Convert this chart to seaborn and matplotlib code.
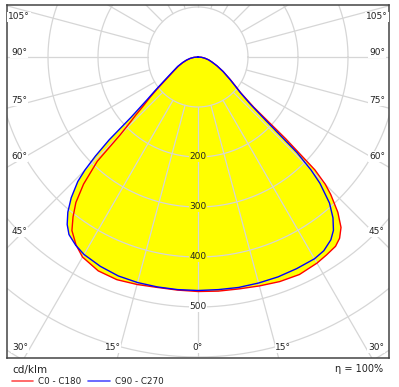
import numpy as np
import pandas as pd
import seaborn as sns
import matplotlib.pyplot as plt
from matplotlib.lines import Line2D

# photometric data, cd/klm, gamma measured from nadir
gamma = [0, 5, 10, 15, 20, 25, 30, 33, 36, 38, 40, 42, 44, 45, 46, 47, 48, 50, 52, 55, 60, 65, 70, 75, 80, 85, 90]
c0 = [469, 470, 471, 474, 478, 480, 476, 472, 468, 460, 445, 418, 382, 360, 325, 240, 150, 112, 96, 79, 58, 42, 30, 22, 14, 7, 0]
c180 = [469, 468, 468, 471, 474, 472, 462, 448, 429, 406, 380, 342, 290, 220, 190, 170, 150, 125, 103, 78, 56, 43, 32, 23, 15, 8, 0]
c90 = [467, 467, 468, 468, 468, 467, 466, 462, 452, 440, 420, 393, 351, 320, 275, 180, 140, 110, 95, 78, 58, 42, 30, 22, 14, 7, 0]
c270 = [467, 467, 467, 467, 466, 462, 456, 449, 439, 425, 405, 379, 346, 320, 285, 243, 180, 133, 108, 82, 58, 45, 33, 24, 16, 8, 0]

ring_values = [100, 200, 300, 400, 500, 600, 700]
ring_labels = [200, 300, 400, 500]
angle_labels = [0, 15, 30, 45, 60, 75, 90, 105]
efficiency = 100


def to_xy(g, right, left):
    # left half goes 90 -> 0, right half 0 -> 90
    g = np.radians(np.array(g, dtype=float))
    right = np.array(right, dtype=float)
    left = np.array(left, dtype=float)
    x = np.concatenate([-left[::-1] * np.sin(g[::-1]), right * np.sin(g)])
    y = np.concatenate([-left[::-1] * np.cos(g[::-1]), -right * np.cos(g)])
    return pd.DataFrame({"x": x, "y": y})


red = to_xy(gamma, c0, c180)
blue = to_xy(gamma, c90, c270)

sns.set_style("white")
W, H = 399, 387
fig = plt.figure(figsize=(W / 100, H / 100), dpi=100)
# frame box in pixels: x 7..389, y 5..358, diagram centre at (198, 57), 2 cd per px
ax = fig.add_axes([7 / W, (H - 358) / H, 382 / W, 353 / H])
ax.set_xlim(-382, 382)
ax.set_ylim(-602, 104)
ax.set_aspect("equal")
ax.set_xticks([])
ax.set_yticks([])
for s in ax.spines.values():
    s.set_color("#444444")
    s.set_linewidth(1.1)

# yellow area
ax.fill(red["x"], red["y"], color="#ffff00", lw=0, zorder=1)
ax.fill(blue["x"], blue["y"], color="#ffff00", lw=0, zorder=1)

# grid
grid_col = "#d6d6d6"
t = np.linspace(0, 2 * np.pi, 400)
for r in ring_values:
    ax.plot(r * np.cos(t), r * np.sin(t), color=grid_col, lw=0.9, zorder=2)
for a in range(0, 360, 15):
    ar = np.radians(a)
    ax.plot([100 * np.sin(ar), 900 * np.sin(ar)], [-100 * np.cos(ar), -900 * np.cos(ar)],
            color=grid_col, lw=0.9, zorder=2)

# curves
sns.lineplot(data=red, x="x", y="y", sort=False, estimator=None, color="#ff0000", lw=1.0, ax=ax, zorder=3)
sns.lineplot(data=blue, x="x", y="y", sort=False, estimator=None, color="#0000ff", lw=1.0, ax=ax, zorder=3)
ax.set_xlabel("")
ax.set_ylabel("")

# intensity labels on the 0 deg axis
for v in ring_labels:
    bg = "#ffff00" if v < c0[0] else "white"
    ax.text(0, -v, str(v), ha="center", va="center", fontsize=6.5, color="#222222", zorder=4,
            bbox=dict(facecolor=bg, edgecolor="none", pad=0.5))

# angle labels around the frame
for a in angle_labels:
    ar = np.radians(a)
    if a >= 45:
        x = 358
        y = -x / np.tan(ar) if a != 90 else 0
        y = min(y + 8, 80)
        for sx in (-1, 1):
            ax.text(sx * x, y, f"{a}°", ha="center", va="center", fontsize=6.5, color="#222222", zorder=4,
                    bbox=dict(facecolor="white", edgecolor="none", pad=0.5))
    else:
        y = -582
        x = 600 * np.tan(ar) + 10 if a else 0
        sides = (1,) if a == 0 else (-1, 1)
        for sx in sides:
            ax.text(sx * x, y, f"{a}°", ha="center", va="center", fontsize=6.5, color="#222222",
                    zorder=4, bbox=dict(facecolor="white", edgecolor="none", pad=0.5))

# footer
fig.text(12 / W, 1 - 370 / H, "cd/klm", fontsize=7.5, ha="left", va="center", color="#222222")
fig.text(383 / W, 1 - 369 / H, f"η = {efficiency}%", fontsize=7, ha="right", va="center", color="#222222")
ly = 1 - 381 / H
fig.add_artist(Line2D([12 / W, 33 / W], [ly, ly], color="#ff5050", lw=1.2))
fig.text(38 / W, ly, "C0 - C180", fontsize=6.3, ha="left", va="center", color="#222222")
fig.add_artist(Line2D([88 / W, 110 / W], [ly, ly], color="#5050ff", lw=1.2))
fig.text(115 / W, ly, "C90 - C270", fontsize=6.3, ha="left", va="center", color="#222222")

fig.savefig("out.png", dpi=100)
